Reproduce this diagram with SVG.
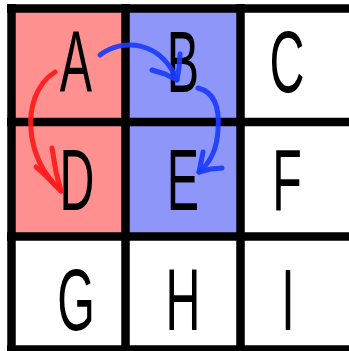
<svg xmlns="http://www.w3.org/2000/svg" width="349" height="351" viewBox="0 0 349 351">
<style>
.lt{font-family:"Liberation Sans",Arial,sans-serif;font-size:88px;fill:#000;text-anchor:middle}
.grid{stroke:#000;stroke-width:8.5;fill:none}
.red{stroke:#ff1a1a;stroke-width:5;fill:none;stroke-linecap:round;stroke-linejoin:round;opacity:0.92}
.blue{stroke:#1a3cff;stroke-width:5;fill:none;stroke-linecap:round;stroke-linejoin:round;opacity:0.92}
</style>
<rect x="0" y="0" width="349" height="351" fill="#fff"/>
<g id="A"><rect x="11" y="8" width="115" height="114" fill="#ff9090"/><text class="lt" transform="translate(76,92) scale(0.55,1)">A</text></g>
<g id="B"><rect x="125" y="8" width="116" height="114" fill="#8f96fa"/><text class="lt" transform="translate(183,92) scale(0.55,1)">B</text></g>
<g id="C"><text class="lt" transform="translate(287,92) scale(0.55,1)">C</text></g>
<g id="D"><rect x="11" y="122" width="115" height="115" fill="#ff9090"/><text class="lt" transform="translate(77,210) scale(0.55,1)">D</text></g>
<g id="E"><rect x="125" y="122" width="116" height="115" fill="#8f96fa"/><text class="lt" transform="translate(183,210) scale(0.55,1)">E</text></g>
<g id="F"><text class="lt" transform="translate(287,210) scale(0.55,1)">F</text></g>
<g id="G"><text class="lt" transform="translate(76,330) scale(0.55,1)">G</text></g>
<g id="H"><text class="lt" transform="translate(183,330) scale(0.55,1)">H</text></g>
<g id="I"><text class="lt" transform="translate(288,330) scale(0.55,1)">I</text></g>
<g id="gridlines" class="grid">
<line x1="11.5" y1="4" x2="11.5" y2="351"/>
<line x1="125.5" y1="4" x2="125.5" y2="351"/>
<line x1="240.5" y1="4" x2="240.5" y2="351"/>
<line x1="7" y1="8.5" x2="349" y2="8.5"/>
<line x1="7" y1="122" x2="349" y2="122"/>
<line x1="7" y1="236.5" x2="349" y2="236.5"/>
<line x1="7" y1="349.5" x2="349" y2="349.5"/>
</g>
<g id="connectors">
<path class="red" d="M55,72 C36,84 29,108 31,130 C33,155 45,176 61,191"/>
<polyline class="red" points="52,148 56,172 61,191 46,176 36,167"/>
<path class="blue" d="M100,55 C122,38 160,40 177,80"/>
<polyline class="blue" points="180,54 179,68 177,80 165,74 152,70"/>
<path class="blue" d="M198,88 C214,92 220,106 218,130 C217,150 210,163 199,172"/>
<polyline class="blue" points="203,152 201,162 199,172 211,169 222,168"/>
</g>
</svg>
